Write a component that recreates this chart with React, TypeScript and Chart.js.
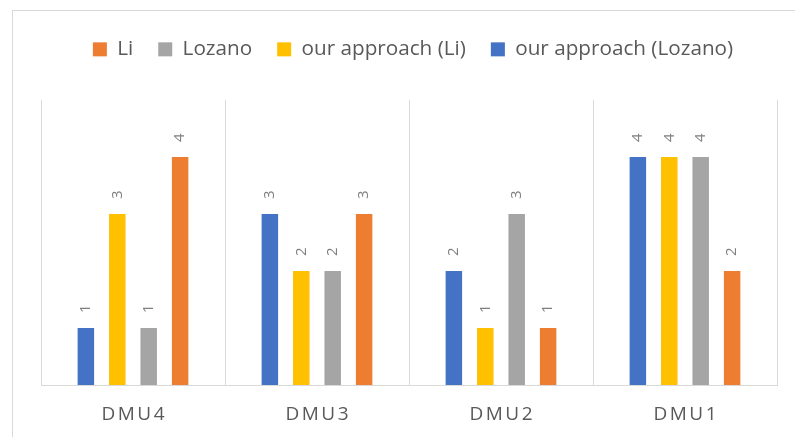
import React, { useEffect, useRef } from "react";
import { Chart, registerables } from "chart.js";

Chart.register(...registerables);

const categories = ["DMU4", "DMU3", "DMU2", "DMU1"];
const seriesNames = ["our approach (Lozano)", "our approach (Li)", "Lozano", "Li"];
const ourLozano = [1, 3, 2, 4];
const ourLi = [3, 2, 1, 4];
const lozano = [1, 2, 3, 4];
const li = [4, 3, 1, 2];
const yMax = 5;
const seriesColors = ["#4472C4", "#FFC000", "#A5A5A5", "#ED7D31"];

const FONT = "'Open Sans', 'Noto Sans', sans-serif";

function drawSpaced(ctx: CanvasRenderingContext2D, text: string, cx: number, cy: number, spacing: number) {
  const chars = text.split("");
  const widths = chars.map((c) => ctx.measureText(c).width);
  const total = widths.reduce((a, b) => a + b, 0) + spacing * (chars.length - 1);
  let x = cx - total / 2;
  ctx.textAlign = "left";
  chars.forEach((c, i) => {
    ctx.fillText(c, x, cy);
    x += widths[i] + spacing;
  });
}

const labelsPlugin = {
  id: "customLabels",
  beforeInit(chart: any) {
    const legend = chart.legend;
    if (legend) {
      const origFit = legend.fit;
      legend.fit = function () {
        origFit.call(this);
        this.height = 88;
      };
      const origDraw = legend.draw;
      legend.draw = function (...args: any[]) {
        const ctx = this.ctx;
        ctx.save();
        ctx.translate(4, 2);
        origDraw.apply(this, args);
        ctx.restore();
      };
    }
  },
  afterDatasetsDraw(chart: any) {
    const ctx = chart.ctx as CanvasRenderingContext2D;
    ctx.save();
    ctx.fillStyle = "#7F7F7F";
    ctx.font = `15px ${FONT}`;
    ctx.textBaseline = "middle";
    ctx.textAlign = "left";
    chart.data.datasets.forEach((ds: any, di: number) => {
      const meta = chart.getDatasetMeta(di);
      meta.data.forEach((bar: any, i: number) => {
        ctx.save();
        ctx.translate(bar.x, bar.y - 15);
        ctx.rotate(-Math.PI / 2);
        ctx.fillText(String(ds.data[i]), 0, 0);
        ctx.restore();
      });
    });
    ctx.restore();
  },
  afterDraw(chart: any) {
    const ctx = chart.ctx as CanvasRenderingContext2D;
    const xs = chart.scales.x;
    ctx.save();
    ctx.fillStyle = "#595959";
    ctx.font = `19px ${FONT}`;
    ctx.textBaseline = "middle";
    categories.forEach((c, i) => {
      drawSpaced(ctx, c, xs.getPixelForValue(i), 415, 2.5);
    });
    ctx.restore();
  },
};

export default function App() {
  const ref = useRef<HTMLCanvasElement | null>(null);
  useEffect(() => {
    if (!ref.current) return;
    const seriesData = [ourLozano, ourLi, lozano, li];
    const chart = new Chart(ref.current, {
      type: "bar",
      data: {
        labels: categories,
        datasets: seriesNames.map((n, i) => ({
          label: n,
          data: seriesData[i],
          backgroundColor: seriesColors[i],
          borderWidth: 0,
          categoryPercentage: 0.683,
          barPercentage: 0.525,
        })),
      },
      options: {
        animation: false,
        responsive: false,
        devicePixelRatio: 1,
        layout: { padding: { left: 41, right: 18, top: 12, bottom: 52 } },
        plugins: {
          tooltip: { enabled: false },
          legend: {
            position: "top",
            reverse: true,
            labels: {
              boxWidth: 14,
              boxHeight: 14,
              padding: 25,
              color: "#595959",
              font: { family: FONT, size: 20.7 },
            },
          },
        },
        scales: {
          x: {
            grid: { color: "#D9D9D9", drawTicks: false, offset: true },
            border: { display: true, color: "#D9D9D9" },
            ticks: { display: false },
          },
          y: {
            display: false,
            min: 0,
            max: yMax,
          },
        },
      },
      plugins: [labelsPlugin],
    });
    return () => chart.destroy();
  }, []);
  return (
    <div style={{ position: "absolute", left: 0, top: 0, width: 795, height: 437, overflow: "hidden", background: "#fff" }}>
      <div
        style={{
          position: "absolute",
          left: 12,
          top: 10,
          width: 800,
          height: 450,
          border: "1px solid #D9D9D9",
        }}
      />
      <canvas ref={ref} width={795} height={437} style={{ position: "absolute", left: 0, top: 0 }} />
    </div>
  );
}
